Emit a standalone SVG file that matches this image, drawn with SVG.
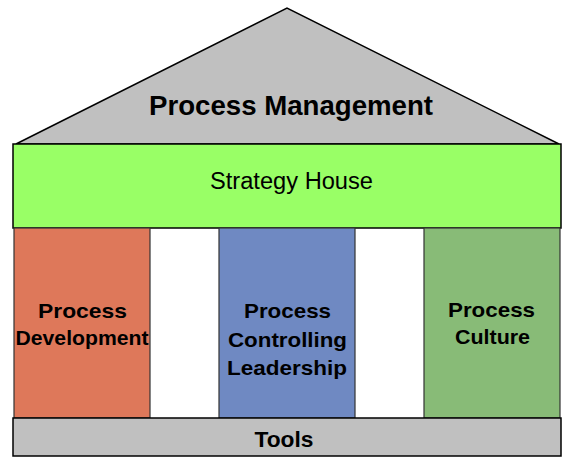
<svg xmlns="http://www.w3.org/2000/svg" width="565" height="458" viewBox="0 0 565 458">
<style>
.b{font-family:"Liberation Sans",Arial,sans-serif;font-weight:bold;fill:#000;text-anchor:middle}
.r{font-family:"Liberation Sans",Arial,sans-serif;fill:#000;text-anchor:middle}
.s{stroke:#000;stroke-width:1.5}
.p{stroke:#333;stroke-width:1.2}
</style>
<rect width="565" height="458" fill="#fff"/>
<g id="roof">
<polygon points="16,144 287,8 559,144" fill="#C0C0C0" class="s"/>
<text x="291" y="115" class="b" font-size="27.5" textLength="284" lengthAdjust="spacingAndGlyphs">Process Management</text>
</g>
<g id="strategy">
<rect x="13" y="144" width="548" height="84" fill="#99FF66" class="s"/>
<text x="291.5" y="189" class="r" font-size="23" textLength="163" lengthAdjust="spacingAndGlyphs">Strategy House</text>
</g>
<g id="development">
<rect x="14" y="228" width="136" height="190" fill="#DE785A" class="p"/>
<text x="82.5" y="318" class="b" font-size="20.5" textLength="89" lengthAdjust="spacingAndGlyphs">Process</text>
<text x="82" y="345" class="b" font-size="20.5" textLength="133" lengthAdjust="spacingAndGlyphs">Development</text>
</g>
<g id="controlling">
<rect x="219" y="228" width="136" height="190" fill="#6F89C2" class="p"/>
<text x="287.5" y="318" class="b" font-size="20.5" textLength="87" lengthAdjust="spacingAndGlyphs">Process</text>
<text x="287.5" y="347" class="b" font-size="20.5" textLength="119" lengthAdjust="spacingAndGlyphs">Controlling</text>
<text x="287" y="375" class="b" font-size="20.5" textLength="120" lengthAdjust="spacingAndGlyphs">Leadership</text>
</g>
<g id="culture">
<rect x="424" y="228" width="136" height="190" fill="#88BB77" class="p"/>
<text x="491.5" y="317" class="b" font-size="20.5" textLength="87" lengthAdjust="spacingAndGlyphs">Process</text>
<text x="492.5" y="344" class="b" font-size="20.5" textLength="75" lengthAdjust="spacingAndGlyphs">Culture</text>
</g>
<g id="tools">
<rect x="13" y="418" width="548" height="38" fill="#C0C0C0" class="s"/>
<text x="284" y="447" class="b" font-size="22" textLength="59" lengthAdjust="spacingAndGlyphs">Tools</text>
</g>
<g id="connectors"></g>
</svg>
